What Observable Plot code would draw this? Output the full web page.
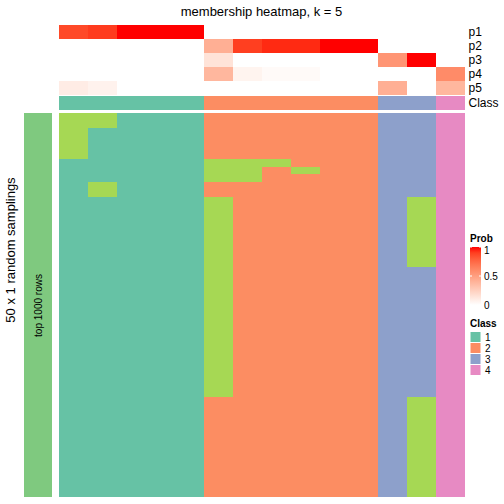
<!DOCTYPE html>
<html>
<head>
<meta charset="utf-8">
<script src="https://cdn.jsdelivr.net/npm/d3@7"></script>
<script src="https://cdn.jsdelivr.net/npm/@observablehq/plot@0.6"></script>
<style>
  html, body { margin: 0; padding: 0; background: white; }
  #root { position: relative; width: 504px; height: 504px; font-family: "Liberation Sans", Arial, sans-serif; }
  #root svg { position: absolute; left: 0; top: 0; }
</style>
</head>
<body>
<div id="root"></div>
<script>
// ---- data ----
const columns = [1, 2, 3, 4, 5, 6, 7, 8, 9, 10, 11, 12, 13, 14];
const probNames = ["p1", "p2", "p3", "p4", "p5"];
const p1 = [0.87, 0.91, 1, 1, 1, 0, 0, 0, 0, 0, 0, 0, 0, 0];
const p2 = [0, 0, 0, 0, 0, 0.42, 0.9, 0.95, 0.95, 1, 1, 0, 0, 0];
const p3 = [0, 0, 0, 0, 0, 0.15, 0, 0, 0, 0, 0, 0.55, 1, 0];
const p4 = [0, 0, 0, 0, 0, 0.38, 0.06, 0.025, 0.025, 0, 0, 0, 0, 0.6];
const p5 = [0.1, 0.07, 0, 0, 0, 0, 0, 0, 0, 0, 0, 0.42, 0, 0.38];
const columnClass = [1, 1, 1, 1, 1, 2, 2, 2, 2, 2, 2, 3, 3, 4];
const rowIds = d3.range(1, 51); // 50 random samplings
// runs of sampling rows whose class differs from the consensus (class 5)
const otherRuns = [
  {col: 1, from: 1, to: 6, cls: 5},
  {col: 2, from: 1, to: 2, cls: 5},
  {col: 2, from: 10, to: 11, cls: 5},
  {col: 6, from: 7, to: 9, cls: 5},
  {col: 6, from: 12, to: 37, cls: 5},
  {col: 7, from: 7, to: 9, cls: 5},
  {col: 8, from: 7, to: 7, cls: 5},
  {col: 9, from: 8, to: 8, cls: 5},
  {col: 13, from: 12, to: 20, cls: 5},
  {col: 13, from: 38, to: 50, cls: 5}
];
const classDomain = [1, 2, 3, 4, 5];
const classColors = ["#66C2A5", "#FC8D62", "#8DA0CB", "#E78AC3", "#A6D854"];
const legendClasses = [1, 2, 3, 4];
const probTicks = [0, 0.5, 1];

// ---- derived tables ----
const probSeries = [p1, p2, p3, p4, p5];
const probCells = [];
probNames.forEach((name, i) => columns.forEach((c, j) => probCells.push({row: name, col: c, value: probSeries[i][j]})));
const classCells = columns.map((c, j) => ({row: "Class", col: c, cls: columnClass[j]}));
const mainCells = [];
columns.forEach((c, j) => rowIds.forEach(r => {
  const run = otherRuns.find(o => o.col === c && r >= o.from && r <= o.to);
  mainCells.push({col: c, row: r, cls: run ? run.cls : columnClass[j]});
}));

const W = 504, H = 504;
const font = "'Liberation Sans', Arial, sans-serif";
const baseStyle = {background: "none", fontFamily: font, fontSize: "12px", color: "black", overflow: "visible"};
const root = document.getElementById("root");
const probColor = {type: "linear", domain: [0, 1], range: ["white", "red"], interpolate: "lab"};
const clsColor = {type: "ordinal", domain: classDomain, range: classColors};
const xBand = {type: "band", domain: columns, padding: 0, axis: null};

// probability annotation rows
root.append(Plot.plot({
  width: W, height: H, marginLeft: 58, marginRight: 39, marginTop: 24, marginBottom: H - 95,
  style: baseStyle,
  x: xBand,
  y: {type: "band", domain: probNames, padding: 0, axis: null},
  color: probColor,
  marks: [
    Plot.cell(probCells, {x: "col", y: "row", fill: "value", shapeRendering: "crispEdges"}),
    Plot.axisY({anchor: "right", tickSize: 0, tickPadding: 3, label: null, fontSize: 12})
  ]
}));

// class annotation row
root.append(Plot.plot({
  width: W, height: H, marginLeft: 58, marginRight: 39, marginTop: 96, marginBottom: H - 110,
  style: baseStyle,
  x: xBand,
  y: {type: "band", domain: ["Class"], padding: 0, axis: null},
  color: clsColor,
  marks: [
    Plot.cell(classCells, {x: "col", y: "row", fill: "cls", shapeRendering: "crispEdges"}),
    Plot.axisY({anchor: "right", tickSize: 0, tickPadding: 3, label: null, fontSize: 12})
  ]
}));

// main membership heatmap
root.append(Plot.plot({
  width: W, height: H, marginLeft: 58, marginRight: 39, marginTop: 113, marginBottom: 7,
  style: baseStyle,
  x: xBand,
  y: {type: "band", domain: rowIds, padding: 0, axis: null},
  color: clsColor,
  marks: [
    Plot.cell(mainCells, {x: "col", y: "row", fill: "cls", shapeRendering: "crispEdges"})
  ]
}));

// left split bar
const splitLabel = ["top 1000 rows"];
root.append(Plot.plot({
  width: W, height: H, marginLeft: 24, marginRight: W - 52, marginTop: 113, marginBottom: 7,
  style: baseStyle,
  x: {type: "band", domain: ["split"], padding: 0, axis: null},
  y: {type: "band", domain: splitLabel, padding: 0, axis: null},
  marks: [
    Plot.cell(splitLabel, {x: () => "split", y: d => d, fill: "#7FC97F"}),
    Plot.text(splitLabel, {x: () => "split", y: d => d, text: d => d, rotate: -90, fontSize: 10, fill: "black"})
  ]
}));

// titles and legends
const svg = d3.select(root).append("svg").attr("width", W).attr("height", H)
  .style("font-family", font);
svg.append("text").attr("x", 261.5).attr("y", 11).attr("dy", "0.35em").attr("text-anchor", "middle")
  .attr("font-size", 13).text("membership heatmap, k = 5");
svg.append("text").attr("transform", "translate(10,250) rotate(-90)").attr("dy", "0.35em")
  .attr("text-anchor", "middle").attr("font-size", 13).text("50 x 1 random samplings");

// Prob legend
const lx = 470, lw = 11, gTop = 247, gBot = 305;
svg.append("text").attr("x", lx).attr("y", 242).attr("font-size", 10).attr("font-weight", "bold").text("Prob");
const interp = d3.interpolateLab("white", "red");
const defs = svg.append("defs");
const grad = defs.append("linearGradient").attr("id", "pg").attr("x1", 0).attr("y1", 1).attr("x2", 0).attr("y2", 0);
d3.range(0, 1.0001, 0.1).forEach(t => grad.append("stop").attr("offset", t).attr("stop-color", interp(t)));
svg.append("rect").attr("x", lx).attr("y", gTop).attr("width", lw).attr("height", gBot - gTop).attr("fill", "url(#pg)");
const py = d3.scaleLinear().domain([0, 1]).range([gBot, gTop]);
probTicks.forEach(t => {
  svg.append("line").attr("x1", lx).attr("x2", lx + 2).attr("y1", py(t)).attr("y2", py(t)).attr("stroke", "white").attr("stroke-width", 1);
  svg.append("line").attr("x1", lx + lw - 2).attr("x2", lx + lw).attr("y1", py(t)).attr("y2", py(t)).attr("stroke", "white").attr("stroke-width", 1);
  svg.append("text").attr("x", lx + lw + 3).attr("y", Math.max(py(t), gTop + 3)).attr("dy", "0.35em").attr("font-size", 10).text(String(t));
});

// Class legend
svg.append("text").attr("x", lx).attr("y", 327).attr("font-size", 10).attr("font-weight", "bold").text("Class");
const cy0 = 331.5, ch = 11;
legendClasses.forEach((c, i) => {
  svg.append("rect").attr("x", lx).attr("y", cy0 + i * ch).attr("width", lw).attr("height", ch)
    .attr("fill", classColors[classDomain.indexOf(c)]).attr("stroke", "white").attr("stroke-width", 1);
  svg.append("text").attr("x", lx + lw + 4).attr("y", cy0 + i * ch + ch / 2).attr("dy", "0.35em")
    .attr("font-size", 10).text(String(c));
});
</script>
</body>
</html>
